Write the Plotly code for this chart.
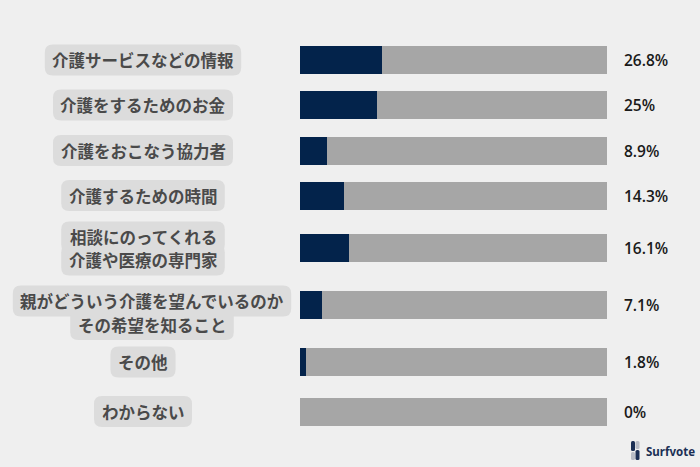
import plotly.graph_objects as go

# ---- data ----
categories = [
    "介護サービスなどの情報",
    "介護をするためのお金",
    "介護をおこなう協力者",
    "介護するための時間",
    "相談にのってくれる\n介護や医療の専門家",
    "親がどういう介護を望んでいるのか\nその希望を知ること",
    "その他",
    "わからない",
]
values = [26.8, 25, 8.9, 14.3, 16.1, 7.1, 1.8, 0]
value_labels = ["26.8%", "25%", "8.9%", "14.3%", "16.1%", "7.1%", "1.8%", "0%"]
total = [100] * len(values)

# ---- layout constants (pixel geometry) ----
W, H = 700, 467
row_y = [60, 105, 150.5, 195.5, 248, 304.5, 362, 411.5]
label_lines_y = [[60], [105], [150.5], [195.5], [237, 260], [301, 324.5], [362], [411.5]]
label_cx = [143, 143, 143, 143, 143, 152, 143, 143]
BAR_W = 28
X0, X1 = 300, 607
CHAR_W = 16.4
BG = "#efefef"
DARK = "#03234b"
GREY = "#a6a6a6"
BOX = "#dcdcdc"
TXT = "#4a4a4a"
FONT = "Noto Sans CJK JP"

fig = go.Figure()
fig.add_trace(go.Bar(y=row_y, x=total, orientation="h", width=BAR_W,
                     marker=dict(color=GREY, line=dict(width=0)), hoverinfo="skip"))
fig.add_trace(go.Bar(y=row_y, x=values, orientation="h", width=BAR_W,
                     marker=dict(color=DARK, line=dict(width=0)), hoverinfo="skip"))

shapes = []
annotations = []


def rrect(x0, y0, x1, y1, r):
    # x in paper, y in data (pixels). r in px
    rx = r / W
    return (f"M {x0+rx},{y0} L {x1-rx},{y0} Q {x1},{y0} {x1},{y0+r} "
            f"L {x1},{y1-r} Q {x1},{y1} {x1-rx},{y1} L {x0+rx},{y1} "
            f"Q {x0},{y1} {x0},{y1-r} L {x0},{y0+r} Q {x0},{y0} {x0+rx},{y0} Z")


for cat, ys, cx in zip(categories, label_lines_y, label_cx):
    lines = cat.split("\n")
    for line, ly in zip(lines, ys):
        tw = len(line) * CHAR_W
        bw = tw + 16
        x0 = (cx - bw / 2) / W
        x1 = (cx + bw / 2) / W
        shapes.append(dict(type="path", xref="paper", yref="y",
                           path=rrect(x0, ly - 15.5, x1, ly + 15.5, 8),
                           fillcolor=BOX, line=dict(width=0), layer="below"))
    for line, ly in zip(lines, ys):
        annotations.append(dict(x=cx / W, y=ly, xref="paper", yref="y",
                                text=f"<b>{line}</b>", showarrow=False,
                                xanchor="center", yanchor="middle",
                                font=dict(family=FONT, size=16.5, color=TXT)))

for lab, y in zip(value_labels, row_y):
    annotations.append(dict(x=622 / W, y=y, xref="paper", yref="y",
                            text=lab, showarrow=False,
                            xanchor="left", yanchor="middle",
                            font=dict(family="Open Sans", size=15.5, weight=600,
                                      color="#1a1a1a")))

# logo
NAVY = "#1b2f55"
LGREY = "#b8bcc6"
annotations.append(dict(x=644 / W, y=451, xref="paper", yref="y",
                        text="<b>Surfvote</b>", showarrow=False,
                        xanchor="left", yanchor="middle",
                        font=dict(family="Noto Sans", size=11.5, color=NAVY)))
for (lx0, ly0, lx1, ly1, col) in [
    (631, 441, 635, 451, NAVY),
    (631, 452, 635, 460, LGREY),
    (635.5, 441, 639.5, 449, LGREY),
    (635.5, 450, 639.5, 460, NAVY),
]:
    shapes.append(dict(type="path", xref="paper", yref="y",
                       path=rrect(lx0 / W, ly0, lx1 / W, ly1, 1.5),
                       fillcolor=col, line=dict(width=0)))

fig.update_layout(
    width=W, height=H,
    margin=dict(l=0, r=0, t=0, b=0),
    paper_bgcolor=BG, plot_bgcolor=BG,
    barmode="overlay", bargap=0,
    showlegend=False,
    xaxis=dict(domain=[X0 / W, X1 / W], range=[0, 100], visible=False, fixedrange=True),
    yaxis=dict(domain=[0, 1], range=[H, 0], visible=False, fixedrange=True),
    shapes=shapes, annotations=annotations,
)

fig.write_html("out.html")
